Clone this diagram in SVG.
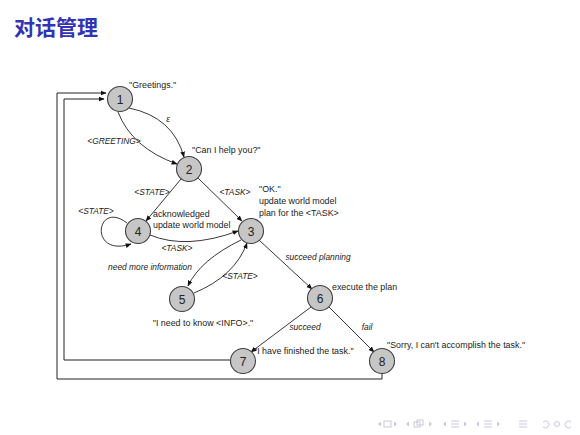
<svg xmlns="http://www.w3.org/2000/svg" width="580" height="435" viewBox="0 0 580 435">
<defs>
<marker id="ah" viewBox="0 0 10 10" refX="9" refY="5" markerWidth="6" markerHeight="6" orient="auto" markerUnits="userSpaceOnUse">
<path d="M0,1 L10,5 L0,9 z" fill="#111"/>
</marker>
<style>
.title{font-family:"Noto Sans CJK SC","Noto Sans",sans-serif;font-size:21px;font-weight:bold;fill:#3333b3}
.node circle{fill:#c6c6c6;stroke:#404040;stroke-width:1.1}
.node text.n{font-family:"Liberation Sans","DejaVu Sans",sans-serif;font-size:12px;fill:#222;text-anchor:middle}
.t{font-family:"Liberation Sans","DejaVu Sans",sans-serif;font-size:8.9px;fill:#222}
.lbl{font-family:"Liberation Sans","DejaVu Sans",sans-serif;font-size:8.4px;font-style:italic;fill:#222;text-anchor:middle}
.e{fill:none;stroke:#222;stroke-width:0.9;marker-end:url(#ah)}
.fb{fill:none;stroke:#222;stroke-width:1}
.nav{fill:#c9c9dc;stroke:none}
.navs{fill:none;stroke:#c9c9dc;stroke-width:1}
</style>
</defs>
<rect width="580" height="435" fill="#fff"/>
<text class="title" x="14" y="35">对话管理</text>

<g id="connectors">
<path class="e" d="M129,108 Q173,117 184,157"/>
<path class="e" d="M118,112 Q132,148 177,164"/>
<path class="e" d="M181,179 L146,221"/>
<path class="e" d="M198,178 L242,221"/>
<path class="e" d="M127,223 C96,199 88,258 131,244"/>
<path class="e" d="M150,235 Q186,250 238,231"/>
<path class="e" d="M241,240 Q200,260 188,286"/>
<path class="e" d="M194,293 Q235,276 247,243"/>
<path class="e" d="M259,240 L312,289"/>
<path class="e" d="M311,307 L251,352"/>
<path class="e" d="M329,307 L374,352"/>
<path class="fb" d="M230,360 H64 V99 H104" marker-end="url(#ah)"/>
<path class="fb" d="M382,374 V379 H57 V93 H106" marker-end="url(#ah)"/>
</g>

<g id="edge-labels">
<text class="lbl" x="168" y="122">ε</text>
<text class="lbl" x="114" y="144">&lt;GREETING&gt;</text>
<text class="lbl" x="152" y="195">&lt;STATE&gt;</text>
<text class="lbl" x="235" y="195">&lt;TASK&gt;</text>
<text class="lbl" x="96" y="214">&lt;STATE&gt;</text>
<text class="lbl" x="177" y="251">&lt;TASK&gt;</text>
<text class="lbl" x="150" y="270">need more information</text>
<text class="lbl" x="240" y="279">&lt;STATE&gt;</text>
<text class="lbl" x="318" y="260">succeed planning</text>
<text class="lbl" x="305" y="330">succeed</text>
<text class="lbl" x="367" y="330">fail</text>
</g>

<g id="node1" class="node"><circle cx="120" cy="99" r="12.5"/><text class="n" x="120" y="103.5">1</text>
<text class="t" x="129" y="88">"Greetings."</text></g>
<g id="node2" class="node"><circle cx="189" cy="169" r="12.5"/><text class="n" x="189" y="173.5">2</text>
<text class="t" x="192" y="153">"Can I help you?"</text></g>
<g id="node3" class="node"><circle cx="251" cy="231" r="12.5"/><text class="n" x="251" y="235.5">3</text>
<text class="t" x="259" y="191.5">"OK."</text>
<text class="t" x="259" y="204">update world model</text>
<text class="t" x="259" y="216">plan for the &lt;TASK&gt;</text></g>
<g id="node4" class="node"><circle cx="138" cy="231" r="12.5"/><text class="n" x="138" y="235.5">4</text>
<text class="t" x="153" y="216.5">acknowledged</text>
<text class="t" x="153" y="228">update world model</text></g>
<g id="node5" class="node"><circle cx="182" cy="299" r="12.5"/><text class="n" x="182" y="303.5">5</text>
<text class="t" x="203" y="326" text-anchor="middle">"I need to know &lt;INFO&gt;."</text></g>
<g id="node6" class="node"><circle cx="320" cy="298" r="12.5"/><text class="n" x="320" y="302.5">6</text>
<text class="t" x="332" y="290">execute the plan</text></g>
<g id="node7" class="node"><circle cx="243" cy="361" r="12.5"/><text class="n" x="243" y="365.5">7</text>
<text class="t" x="254" y="354">"I have finished the task."</text></g>
<g id="node8" class="node"><circle cx="382" cy="361" r="12.5"/><text class="n" x="382" y="365.5">8</text>
<text class="t" x="387" y="348">"Sorry, I can't accomplish the task."</text></g>

<g id="navigation">
<path class="nav" d="M381,421.5 L378,424 L381,426.5 z"/>
<rect class="navs" x="384" y="421" width="7" height="6"/>
<path class="nav" d="M394,421.5 L397,424 L394,426.5 z"/>
<path class="nav" d="M409,421.5 L406,424 L409,426.5 z"/>
<rect class="navs" x="414" y="422" width="6" height="5"/>
<rect class="navs" x="417" y="420" width="6" height="5"/>
<path class="nav" d="M429,421.5 L432,424 L429,426.5 z"/>
<path class="nav" d="M446,421.5 L443,424 L446,426.5 z"/>
<path class="navs" d="M451,421 H459 M451,424 H459 M451,427 H459"/>
<path class="nav" d="M464,421.5 L467,424 L464,426.5 z"/>
<path class="nav" d="M479,421.5 L476,424 L479,426.5 z"/>
<path class="navs" d="M484,421 H492 M484,424 H492 M484,427 H492"/>
<path class="nav" d="M497,421.5 L500,424 L497,426.5 z"/>
<path class="navs" d="M519,421 H527 M519,424 H527 M519,427 H527"/>
<path class="navs" d="M543,422 A3.5,3.5 0 1 1 543,427"/>
<circle class="navs" cx="557" cy="424" r="2.5"/>
<path class="navs" d="M571,422 A3.5,3.5 0 1 0 571,427"/>
</g>
</svg>
